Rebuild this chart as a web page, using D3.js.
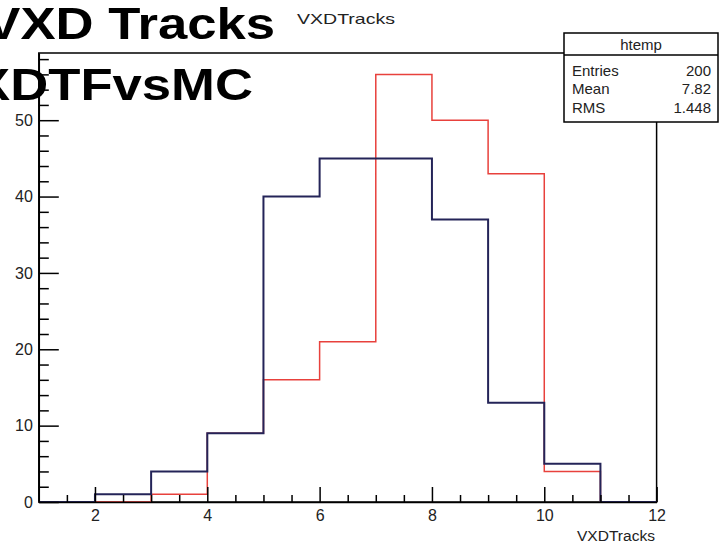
<!DOCTYPE html>
<html>
<head>
<meta charset="utf-8">
<script src="https://cdn.jsdelivr.net/npm/d3@7"></script>
<style>
  html, body { margin: 0; padding: 0; background: #fff; }
  svg { display: block; font-family: "Liberation Sans", Arial, Helvetica, sans-serif; }
</style>
</head>
<body>
<svg id="chart" width="719" height="544"></svg>
<script>
// Bin lower edges (bin width 1) and the histogram range
const binLowEdges = [1, 2, 3, 4, 5, 6, 7, 8, 9, 10, 11];
const binWidth = 1;
const xRange = [1, 12];
// Entries per bin: htemp (red) and the overlaid histogram (blue)
const htempCounts = [0, 0, 1, 9, 16, 21, 56, 50, 43, 4, 0];
const overlayCounts = [0, 1, 4, 9, 40, 45, 45, 37, 13, 5, 0];
// Axis ticks
const xMajorTicks = [2, 4, 6, 8, 10, 12];
const xMinorTicks = d3.range(1.5, 12.01, 0.5).filter(v => v % 2 !== 0);
const yMajorTicks = [0, 10, 20, 30, 40, 50];
const yMinorTicks = d3.range(2, 59, 2).filter(v => v % 10 !== 0);
// Texts
const mainTitleLines = ["VXD Tracks", "VXDTFvsMC"];
const histTitle = "VXDTracks";
const xAxisTitle = "VXDTracks";
const statsName = "htemp";

const svg = d3.select("#chart");
const frame = { left: 38.8, right: 656.6, top: 53, bottom: 502 };

const yMax = d3.max(htempCounts.concat(overlayCounts)) * 1.05;
const x = d3.scaleLinear().domain(xRange).range([frame.left, frame.right]);
const y = d3.scaleLinear().domain([0, yMax]).range([frame.bottom, frame.top]);

// Frame
svg.append("rect")
  .attr("x", frame.left).attr("y", frame.top)
  .attr("width", frame.right - frame.left).attr("height", frame.bottom - frame.top)
  .attr("fill", "none").attr("stroke", "#000").attr("stroke-width", 1.5);

// Histogram outline points
function outline(counts) {
  const pts = [[binLowEdges[0], 0]];
  counts.forEach((c, i) => {
    pts.push([binLowEdges[i], c]);
    pts.push([binLowEdges[i] + binWidth, c]);
  });
  pts.push([binLowEdges[binLowEdges.length - 1] + binWidth, 0]);
  return pts;
}
const line = d3.line().x(d => x(d[0])).y(d => y(d[1]));

svg.append("path")
  .attr("d", line(outline(htempCounts)))
  .attr("fill", "none").attr("stroke", "#e8413c").attr("stroke-width", 1.5);
svg.append("path")
  .attr("d", line(outline(overlayCounts)))
  .attr("fill", "none").attr("stroke", "#242458").attr("stroke-width", 2);

// Axes
const tickFont = g => g.selectAll("text")
  .attr("font-size", 16).attr("fill", "#222")
  .attr("font-family", "'Liberation Sans', Arial, sans-serif");

const xMajor = svg.append("g").attr("transform", `translate(0,${frame.bottom})`)
  .call(d3.axisBottom(x).tickValues(xMajorTicks).tickFormat(d3.format("d"))
    .tickSizeInner(-15).tickSizeOuter(0).tickPadding(8));
xMajor.call(tickFont);
svg.append("g").attr("transform", `translate(0,${frame.bottom})`)
  .call(d3.axisBottom(x).tickValues(xMinorTicks).tickFormat("")
    .tickSizeInner(-7).tickSizeOuter(0))
  .call(g => g.select(".domain").remove());

const yMajor = svg.append("g").attr("transform", `translate(${frame.left},0)`)
  .call(d3.axisLeft(y).tickValues(yMajorTicks).tickFormat(d3.format("d"))
    .tickSizeInner(-20).tickSizeOuter(0).tickPadding(6));
yMajor.call(tickFont);
svg.append("g").attr("transform", `translate(${frame.left},0)`)
  .call(d3.axisLeft(y).tickValues(yMinorTicks).tickFormat("")
    .tickSizeInner(-10).tickSizeOuter(0))
  .call(g => g.select(".domain").remove());

svg.selectAll(".tick line, .domain").attr("stroke", "#000").attr("stroke-width", 1.5);

// Axis title
svg.append("text")
  .attr("x", 655).attr("y", 541)
  .attr("text-anchor", "end").attr("font-size", 15.5).attr("fill", "#222")
  .attr("textLength", 78).attr("lengthAdjust", "spacingAndGlyphs")
  .text(xAxisTitle);

// Histogram title
svg.append("text")
  .attr("x", 297).attr("y", 24)
  .attr("font-size", 15).attr("fill", "#222")
  .attr("textLength", 98).attr("lengthAdjust", "spacingAndGlyphs")
  .text(histTitle);

// Statistics box, values computed from htemp
const centers = binLowEdges.map(e => e + binWidth / 2);
const entries = d3.sum(htempCounts);
const mean = d3.sum(htempCounts.map((c, i) => c * centers[i])) / entries;
const rms = Math.sqrt(d3.sum(htempCounts.map((c, i) => c * (centers[i] - mean) ** 2)) / entries);
const statsRows = [
  ["Entries", String(entries)],
  ["Mean", mean.toFixed(2)],
  ["RMS", rms.toFixed(3)]
];

const box = { x0: 564, y0: 33, x1: 718, y1: 122, sep: 55 };
svg.append("rect")
  .attr("x", box.x0).attr("y", box.y0)
  .attr("width", box.x1 - box.x0).attr("height", box.y1 - box.y0)
  .attr("fill", "#fff").attr("stroke", "#000").attr("stroke-width", 1.5);
svg.append("line")
  .attr("x1", box.x0).attr("x2", box.x1).attr("y1", box.sep).attr("y2", box.sep)
  .attr("stroke", "#000").attr("stroke-width", 1.5);
svg.append("text")
  .attr("x", (box.x0 + box.x1) / 2).attr("y", 50)
  .attr("text-anchor", "middle").attr("font-size", 15).attr("fill", "#222")
  .text(statsName);
statsRows.forEach((r, i) => {
  const by = 75.5 + i * 18.5;
  svg.append("text").attr("x", 572).attr("y", by)
    .attr("font-size", 15).attr("fill", "#222").text(r[0]);
  svg.append("text").attr("x", 711).attr("y", by).attr("text-anchor", "end")
    .attr("font-size", 15).attr("fill", "#222").text(r[1]);
});

// Large title, two lines
const titleAnchors = [[275, 39], [253, 100]];
mainTitleLines.forEach((t, i) => {
  svg.append("g")
    .attr("transform", `translate(${titleAnchors[i][0]},${titleAnchors[i][1]}) scale(1.17,1)`)
    .append("text")
    .attr("text-anchor", "end").attr("font-size", 45).attr("font-weight", "bold")
    .attr("fill", "#000")
    .text(t);
});
</script>
</body>
</html>
